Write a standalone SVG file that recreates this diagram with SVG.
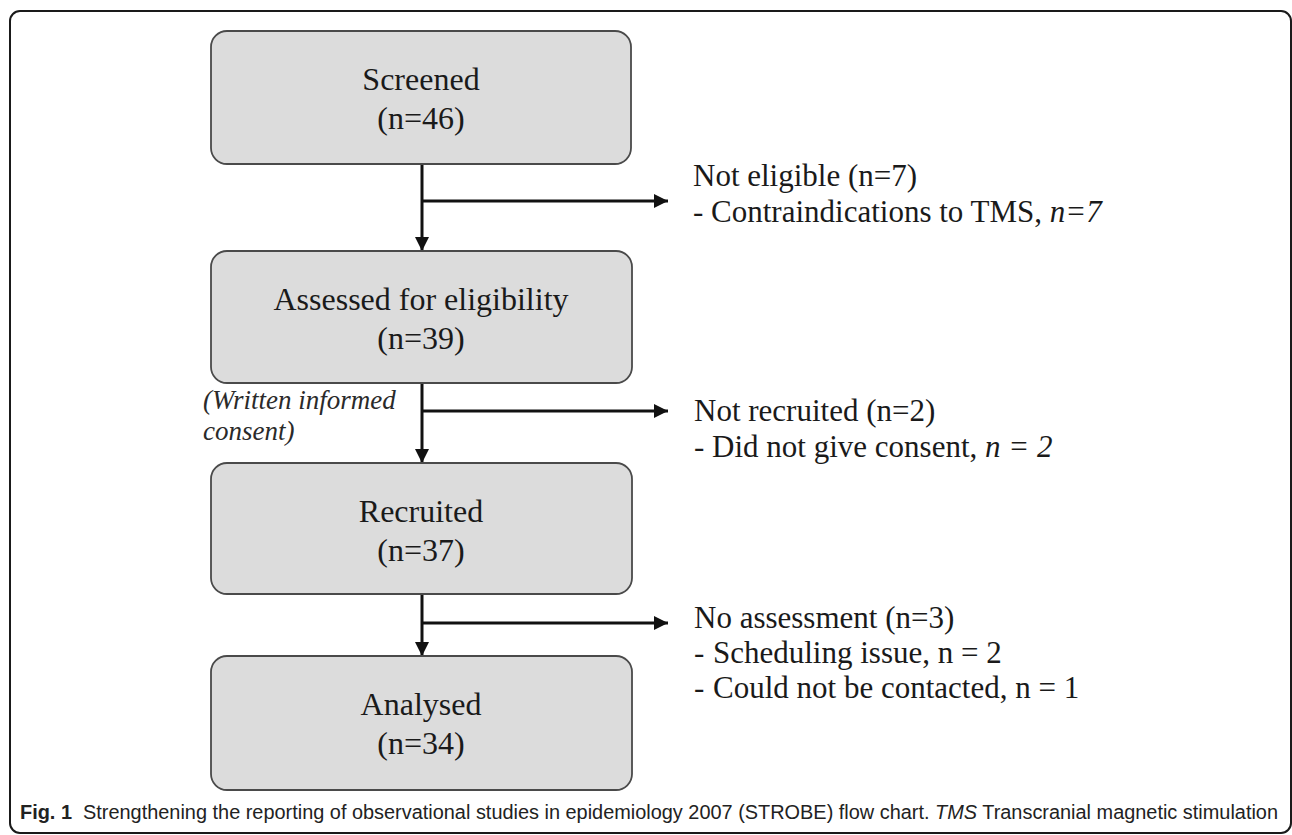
<svg xmlns="http://www.w3.org/2000/svg" width="1292" height="835" viewBox="0 0 1292 835">
<defs>
<marker id="ah" markerUnits="userSpaceOnUse" markerWidth="14" markerHeight="14" refX="14" refY="7" orient="auto">
<path d="M0,0 L14,7 L0,14 z" fill="#111"/>
</marker>
<style>
.box{fill:#dcdcdc;stroke:#4a4a4a;stroke-width:1.8}
.bt{font-family:"Liberation Serif","Times New Roman",serif;font-size:32px;fill:#1a1a1a;text-anchor:middle}
.st{font-family:"Liberation Serif","Times New Roman",serif;font-size:31px;fill:#1a1a1a}
.it{font-style:italic}
.lab{font-family:"Liberation Serif","Times New Roman",serif;font-size:27px;font-style:italic;fill:#2a2a2a}
.conn{stroke:#111;stroke-width:3;fill:none}
.cap{font-family:"Liberation Sans",Arial,sans-serif;font-size:20px;fill:#222}
</style>
</defs>
<rect x="10" y="11" width="1281" height="822" rx="10" fill="#fff" stroke="#1a1a1a" stroke-width="2"/>
<g id="connectors">
<line class="conn" x1="422" y1="164" x2="422" y2="251" marker-end="url(#ah)"/>
<line class="conn" x1="422" y1="201" x2="668" y2="201" marker-end="url(#ah)"/>
<line class="conn" x1="422" y1="383" x2="422" y2="463" marker-end="url(#ah)"/>
<line class="conn" x1="422" y1="411" x2="668" y2="411" marker-end="url(#ah)"/>
<line class="conn" x1="422" y1="594" x2="422" y2="656" marker-end="url(#ah)"/>
<line class="conn" x1="422" y1="623" x2="668" y2="623" marker-end="url(#ah)"/>
</g>
<g id="screened">
<rect class="box" x="211" y="31" width="420" height="133" rx="16"/>
<text class="bt" x="421" y="90">Screened</text>
<text class="bt" x="421" y="129">(n=46)</text>
</g>
<g id="assessed">
<rect class="box" x="211" y="251" width="421" height="132" rx="16"/>
<text class="bt" x="421" y="310">Assessed for eligibility</text>
<text class="bt" x="421" y="349">(n=39)</text>
</g>
<g id="recruited">
<rect class="box" x="211" y="463" width="421" height="131" rx="16"/>
<text class="bt" x="421" y="522">Recruited</text>
<text class="bt" x="421" y="561">(n=37)</text>
</g>
<g id="analysed">
<rect class="box" x="211" y="656" width="421" height="134" rx="16"/>
<text class="bt" x="421" y="715">Analysed</text>
<text class="bt" x="421" y="754">(n=34)</text>
</g>
<g id="not-eligible">
<text class="st" x="693" y="186">Not eligible (n=7)</text>
<text class="st" x="693" y="222">- Contraindications to TMS, <tspan class="it">n=7</tspan></text>
</g>
<g id="consent-label">
<text class="lab" x="203" y="409">(Written informed</text>
<text class="lab" x="203" y="440">consent)</text>
</g>
<g id="not-recruited">
<text class="st" x="694" y="421">Not recruited (n=2)</text>
<text class="st" x="694" y="457">- Did not give consent, <tspan class="it">n = 2</tspan></text>
</g>
<g id="no-assessment">
<text class="st" x="694" y="628">No assessment (n=3)</text>
<text class="st" x="694" y="663">-<tspan x="713">Scheduling issue, n = 2</tspan></text>
<text class="st" x="694" y="698">-<tspan x="713">Could not be contacted, n = 1</tspan></text>
</g>
<g id="caption">
<text class="cap" x="20" y="819" textLength="1258" lengthAdjust="spacingAndGlyphs" xml:space="preserve"><tspan font-weight="bold">Fig. 1</tspan>  Strengthening the reporting of observational studies in epidemiology 2007 (STROBE) flow chart. <tspan font-style="italic">TMS</tspan> Transcranial magnetic stimulation</text>
</g>
</svg>
